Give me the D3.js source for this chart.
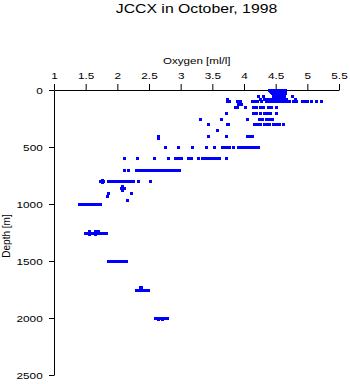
<!DOCTYPE html>
<html><head><meta charset="utf-8">
<script src="https://cdn.jsdelivr.net/npm/d3@7"></script>
<style>html,body{margin:0;padding:0;background:#fff;} svg{display:block;}</style>
</head><body>
<svg id="chart" width="350" height="384"></svg>
<script>
const title = "JCCX in October, 1998";
const xLabel = "Oxygen [ml/l]";
const yLabel = "Depth [m]";
const xTicks = [1, 1.5, 2, 2.5, 3, 3.5, 4, 4.5, 5, 5.5];
const yTicks = [0, 500, 1000, 1500, 2000, 2500];

// sampling depths (m)
const depthLevels = [0, 10, 20, 30, 50, 75, 90, 100, 120, 145, 150, 200, 250, 300, 355, 400, 425, 500, 600, 700, 790, 800, 810, 845, 860, 875, 900, 930, 965, 1000, 1240, 1250, 1260, 1500, 1730, 1750, 2000, 2012];
// oxygen readings (ml/l) at each depth level
const oxygenAtDepth = [
  [4.40, 4.43, 4.46, 4.49, 4.52, 4.55, 4.58, 4.61, 4.64],
  [4.41, 4.44, 4.47, 4.50, 4.53, 4.56, 4.59, 4.62, 4.65],
  [4.43, 4.46, 4.49, 4.52, 4.55, 4.58, 4.61, 4.64],
  [4.44, 4.47, 4.50, 4.53, 4.56, 4.59, 4.62, 4.65],
  [4.22, 4.30, 4.45, 4.48, 4.51, 4.54, 4.57, 4.60, 4.63, 4.76],
  [3.73, 4.25, 4.31, 4.36, 4.41, 4.45, 4.49, 4.53, 4.57, 4.61, 4.64, 4.67, 4.80],
  [4.44, 4.48, 4.52, 4.56, 4.60, 4.64],
  [3.73, 3.77, 3.89, 3.93, 4.13, 4.17, 4.21, 4.27, 4.35, 4.39, 4.43, 4.47, 4.51, 4.55, 4.59, 4.63, 4.67, 4.71, 4.77, 4.82, 4.91, 4.96, 5.00, 5.06, 5.14, 5.22],
  [3.90, 3.95],
  [3.85, 3.89, 4.01, 4.14, 4.19, 4.25, 4.30, 4.38, 4.43, 4.50],
  [4.14],
  [3.71, 4.14, 4.19, 4.25, 4.31, 4.36, 4.41, 4.50],
  [3.30, 3.64, 4.04, 4.23, 4.28, 4.34, 4.39, 4.44],
  [3.43, 3.73, 3.75, 4.16, 4.21, 4.26, 4.31, 4.36, 4.40, 4.45, 4.50, 4.55, 4.61],
  [3.57],
  [2.64, 3.43, 3.72, 4.04, 4.08, 4.13],
  [2.64],
  [2.75, 2.96, 3.18, 3.40, 3.52, 3.66, 3.70, 3.74, 3.77, 3.82, 3.90, 3.94, 3.98, 4.02, 4.06, 4.10, 4.14, 4.18, 4.22],
  [2.11, 2.31, 2.58, 2.80, 2.91, 2.95, 3.00, 3.11, 3.16, 3.27, 3.33, 3.37, 3.41, 3.45, 3.49, 3.53, 3.57, 3.61, 3.72],
  [2.11, 2.17, 2.29, 2.32, 2.35, 2.38, 2.41, 2.44, 2.47, 2.50, 2.53, 2.56, 2.59, 2.62, 2.65, 2.68, 2.71, 2.74, 2.77, 2.80, 2.83, 2.88, 2.92, 2.95, 2.98],
  [1.75],
  [1.73, 1.77, 1.85, 1.88, 1.91, 1.94, 1.97, 2.00, 2.03, 2.06, 2.09, 2.12, 2.15, 2.18, 2.21, 2.24, 2.33, 2.51],
  [1.75],
  [2.08],
  [2.06, 2.10],
  [2.08],
  [1.86, 2.22],
  [1.84],
  [2.15],
  [1.40, 1.43, 1.46, 1.48, 1.50, 1.52, 1.55, 1.57, 1.60, 1.62, 1.65, 1.67, 1.70, 1.72],
  [1.55, 1.64, 1.70],
  [1.49, 1.52, 1.55, 1.58, 1.61, 1.64, 1.67, 1.70, 1.73, 1.76, 1.79, 1.82],
  [1.55, 1.64],
  [1.85, 1.88, 1.91, 1.94, 1.97, 2.00, 2.03, 2.06, 2.09, 2.12, 2.14],
  [2.35, 2.37],
  [2.30, 2.33, 2.36, 2.40, 2.43, 2.46, 2.49],
  [2.60, 2.63, 2.66, 2.69, 2.72, 2.75, 2.78],
  [2.64, 2.70]
];

const points = [];
depthLevels.forEach((d, i) => oxygenAtDepth[i].forEach(o => points.push({depth: d, oxygen: o})));

const FONT = "'Liberation Sans', Arial, Helvetica, sans-serif";
const svg = d3.select("#chart");
svg.append("rect").attr("width", 350).attr("height", 384).attr("fill", "#fff");

const x = d3.scaleLinear().domain([1, 5.5]).range([54, 339]);
const y = d3.scaleLinear().domain([0, 2500]).range([90, 375]);

// title
svg.append("text")
  .attr("transform", "translate(196.5,13) scale(1.17,1)")
  .attr("text-anchor", "middle")
  .attr("font-family", FONT).attr("font-size", 13.5)
  .attr("fill", "#000")
  .text(title);

// x axis (top)
const gx = svg.append("g").attr("transform", "translate(0,90)")
  .call(d3.axisTop(x).tickValues(xTicks).tickSizeInner(6).tickSizeOuter(0).tickFormat(d3.format("")));
gx.attr("font-family", FONT).attr("font-size", 9.8);
gx.selectAll("text").attr("y", 0).attr("dy", 0)
  .attr("transform", "translate(0,-11) scale(1.2,1)").attr("fill", "#000");
gx.selectAll("line,path").attr("stroke", "#000");

svg.append("text")
  .attr("transform", "translate(196.7,63.5) scale(1.22,1)")
  .attr("text-anchor", "middle")
  .attr("font-family", FONT).attr("font-size", 9.5)
  .attr("fill", "#000")
  .text(xLabel);

// y axis (left)
const gy = svg.append("g").attr("transform", "translate(54,0)")
  .call(d3.axisLeft(y).tickValues(yTicks).tickSizeInner(5).tickSizeOuter(0).tickFormat(d3.format("")));
gy.attr("font-family", FONT).attr("font-size", 9.8);
gy.selectAll("text").attr("x", 0).attr("dy", "0.35em")
  .attr("transform", "translate(-11.3,0) scale(1.2,1)").attr("fill", "#000");
gy.selectAll("line,path").attr("stroke", "#000");

svg.append("text")
  .attr("transform", "translate(10,236) rotate(-90)")
  .attr("text-anchor", "middle")
  .attr("font-family", FONT).attr("font-size", 10)
  .attr("fill", "#000")
  .text(yLabel);

// points
svg.append("g").selectAll("rect.pt").data(points).join("rect")
  .attr("class", "pt")
  .attr("x", d => Math.round(x(d.oxygen)) - 1)
  .attr("y", d => Math.round(y(d.depth)) - 1)
  .attr("width", 3).attr("height", 3)
  .attr("fill", "#0000ff");
</script>
</body></html>
